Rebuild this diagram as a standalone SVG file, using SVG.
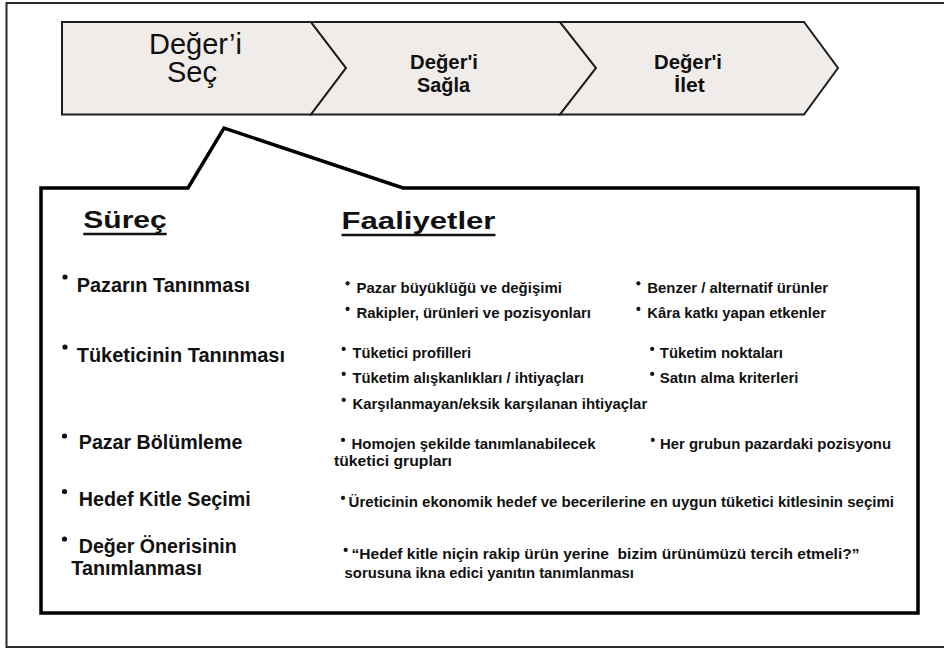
<svg xmlns="http://www.w3.org/2000/svg" width="944" height="649" viewBox="0 0 944 649">
<style>
  .chev { fill:#efecea; stroke:#1e1e1e; stroke-width:2; stroke-linejoin:miter; }
  .t { font-family:"Liberation Sans", Arial, sans-serif; fill:#111; }
  .hd { font-size:23px; font-weight:bold; }
  .lc { font-size:19.5px; font-weight:bold; }
  .rc { font-size:15px; font-weight:bold; }
  .dot { fill:#111; }
  .ul { stroke:#111; stroke-width:2.5; }
</style>
<rect id="frame" x="6.5" y="3" width="950" height="644" fill="#ffffff" stroke="#2a2a2a" stroke-width="2"/>

<g id="node-sec">
  <path class="chev" d="M62,22 H311 L346,68 L311,114.5 H62 Z"/>
  <text class="t" x="195.5" y="54.3" font-size="29" text-anchor="middle">Değer’i</text>
  <text class="t" x="192" y="82.3" font-size="29" text-anchor="middle">Seç</text>
</g>
<g id="node-sagla">
  <path class="chev" d="M311,22 H560 L596,68 L560,114.5 H311 L346,68 Z"/>
  <text class="t" x="444" y="69.3" font-size="21" font-weight="bold" text-anchor="middle" textLength="68" lengthAdjust="spacingAndGlyphs">Değer'i</text>
  <text class="t" x="443.5" y="91.7" font-size="21" font-weight="bold" text-anchor="middle" textLength="53" lengthAdjust="spacingAndGlyphs">Sağla</text>
</g>
<g id="node-ilet">
  <path class="chev" d="M560,22 H804 L838,68 L804,114.5 H560 L596,68 Z"/>
  <text class="t" x="688" y="69.3" font-size="21" font-weight="bold" text-anchor="middle" textLength="68" lengthAdjust="spacingAndGlyphs">Değer'i</text>
  <text class="t" x="689.5" y="91.7" font-size="21" font-weight="bold" text-anchor="middle">İlet</text>
</g>

<g id="callout">
  <path d="M41,188 H188 L224,128 L403,188 H918 V613 H41 Z" fill="#ffffff" stroke="#000" stroke-width="3.5" stroke-linejoin="miter"/>
</g>

<g id="headers">
  <text class="t hd" x="83.3" y="228.3" textLength="83.4" lengthAdjust="spacingAndGlyphs">Süreç</text>
  <line class="ul" x1="83.3" y1="234" x2="166.7" y2="234"/>
  <text class="t hd" x="341.5" y="229.3" textLength="154" lengthAdjust="spacingAndGlyphs">Faaliyetler</text>
  <line class="ul" x1="341.5" y1="235" x2="495.5" y2="235"/>
</g>

<g id="surec-items">
  <circle class="dot" cx="65" cy="277" r="2.6"/>
  <text class="t lc" x="76.7" y="291.7" textLength="173.3" lengthAdjust="spacingAndGlyphs">Pazarın Tanınması</text>
  <circle class="dot" cx="65" cy="347" r="2.6"/>
  <text class="t lc" x="76.7" y="361.7" textLength="208.3" lengthAdjust="spacingAndGlyphs">Tüketicinin Tanınması</text>
  <circle class="dot" cx="64.5" cy="436" r="2.6"/>
  <text class="t lc" x="78.8" y="449.3" font-size="20" textLength="163.6" lengthAdjust="spacingAndGlyphs">Pazar Bölümleme</text>
  <circle class="dot" cx="64.5" cy="491.5" r="2.6"/>
  <text class="t lc" x="78.8" y="506" font-size="20" textLength="172" lengthAdjust="spacingAndGlyphs">Hedef Kitle Seçimi</text>
  <circle class="dot" cx="64.5" cy="539" r="2.6"/>
  <text class="t lc" x="78.8" y="553.3" font-size="20" textLength="158" lengthAdjust="spacingAndGlyphs">Değer Önerisinin</text>
  <text class="t lc" x="71.3" y="574.5" font-size="20" textLength="130.7" lengthAdjust="spacingAndGlyphs">Tanımlanması</text>
</g>

<g id="faaliyet-items">
  <circle class="dot" cx="347.6" cy="283.3" r="2.1"/>
  <text class="t rc" x="356.4" y="292.7" textLength="205.5" lengthAdjust="spacingAndGlyphs">Pazar büyüklüğü ve değişimi</text>
  <circle class="dot" cx="638.4" cy="283.3" r="2.1"/>
  <text class="t rc" x="647.2" y="292.7" textLength="181" lengthAdjust="spacingAndGlyphs">Benzer / alternatif ürünler</text>
  <circle class="dot" cx="347.6" cy="308.9" r="2.1"/>
  <text class="t rc" x="356.4" y="318.3" textLength="234.6" lengthAdjust="spacingAndGlyphs">Rakipler, ürünleri ve pozisyonları</text>
  <circle class="dot" cx="638.4" cy="308.9" r="2.1"/>
  <text class="t rc" x="647.2" y="318.3" textLength="178.8" lengthAdjust="spacingAndGlyphs">Kâra katkı yapan etkenler</text>

  <circle class="dot" cx="343.7" cy="348.9" r="2.1"/>
  <text class="t rc" x="352.5" y="358.3" textLength="118.7" lengthAdjust="spacingAndGlyphs">Tüketici profilleri</text>
  <circle class="dot" cx="652.2" cy="348.9" r="2.1"/>
  <text class="t rc" x="659.8" y="358.3" textLength="123.2" lengthAdjust="spacingAndGlyphs">Tüketim noktaları</text>
  <circle class="dot" cx="343.7" cy="373.9" r="2.1"/>
  <text class="t rc" x="352.5" y="383.3" textLength="231.5" lengthAdjust="spacingAndGlyphs">Tüketim alışkanlıkları / ihtiyaçları</text>
  <circle class="dot" cx="652.2" cy="373.9" r="2.1"/>
  <text class="t rc" x="659.8" y="383.3" textLength="138.6" lengthAdjust="spacingAndGlyphs">Satın alma kriterleri</text>
  <circle class="dot" cx="343.7" cy="399.9" r="2.1"/>
  <text class="t rc" x="352.5" y="409.3" textLength="294.7" lengthAdjust="spacingAndGlyphs">Karşılanmayan/eksik karşılanan ihtiyaçlar</text>

  <circle class="dot" cx="343" cy="439.9" r="2.1"/>
  <text class="t rc" x="351.5" y="449.3" textLength="244" lengthAdjust="spacingAndGlyphs">Homojen şekilde tanımlanabilecek</text>
  <text class="t rc" x="334" y="466" textLength="118" lengthAdjust="spacingAndGlyphs">tüketici grupları</text>
  <circle class="dot" cx="652.8" cy="439.9" r="2.1"/>
  <text class="t rc" x="660" y="449.3" textLength="231" lengthAdjust="spacingAndGlyphs">Her grubun pazardaki pozisyonu</text>

  <circle class="dot" cx="343" cy="497.9" r="2.1"/>
  <text class="t rc" x="348.6" y="507.3" textLength="545.4" lengthAdjust="spacingAndGlyphs">Üreticinin ekonomik hedef ve becerilerine en uygun tüketici kitlesinin seçimi</text>

  <circle class="dot" cx="345.7" cy="549.9" r="2.1"/>
  <text class="t rc" x="351.5" y="559.3" textLength="508" lengthAdjust="spacingAndGlyphs" xml:space="preserve">“Hedef kitle niçin rakip ürün yerine  bizim ürünümüzü tercih etmeli?”</text>
  <text class="t rc" x="344.6" y="578.3" textLength="289.4" lengthAdjust="spacingAndGlyphs">sorusuna ikna edici yanıtın tanımlanması</text>
</g>
</svg>
